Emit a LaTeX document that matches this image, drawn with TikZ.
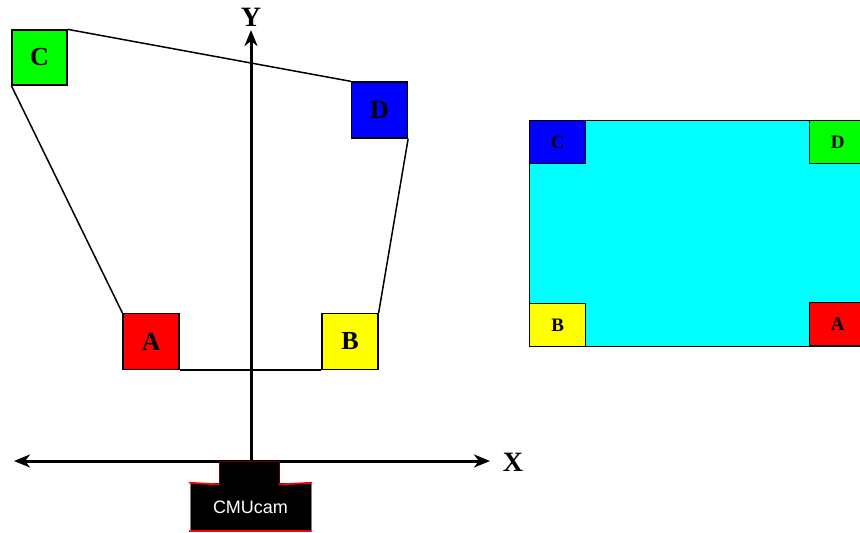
\documentclass[tikz,border=0pt]{standalone}
\usepackage{fontspec}
\setmainfont{Liberation Serif}
\newfontfamily\armfont{Liberation Sans}
\usetikzlibrary{arrows.meta}
\definecolor{gA}{RGB}{0,255,0}
\definecolor{bA}{RGB}{0,0,255}
\definecolor{rA}{RGB}{255,0,0}
\definecolor{yA}{RGB}{255,255,0}
\definecolor{cyA}{RGB}{0,255,255}
\tikzset{
  bigsq/.style={draw=black, line width=1.3pt, minimum width=56pt, minimum height=56pt, inner sep=0pt, font=\fontsize{26}{26}\selectfont\bfseries},
  smallsq/.style={draw=black, line width=1.3pt, minimum width=56pt, minimum height=43pt, inner sep=0pt, font=\fontsize{19}{19}\selectfont\bfseries},
  edge/.style={line width=1.5pt},
  tipA/.tip={Stealth[length=16pt,width=13pt,inset=5pt]},
  axlabel/.style={font=\fontsize{28}{28}\selectfont\bfseries, inner sep=0pt}
}
\begin{document}
\begin{tikzpicture}[x=1pt,y=-1pt]
\useasboundingbox (0,0) rectangle (860,533);
\clip (0,0) rectangle (860,533);
% left scene
\node[bigsq, fill=gA, minimum width=55pt, minimum height=55pt] (C) at (39.5,57.5) {C};
\node[bigsq, fill=bA] (D) at (379.5,110) {D};
\node[bigsq, fill=rA] (A) at (151,341.5) {A};
\node[bigsq, fill=yA] (B) at (350,341.5) {B};
\draw[edge] (C.north east) -- (D.north west);
\draw[edge] (C.south west) -- (A.north west);
\draw[edge] (D.south east) -- (B.north east);
\draw[edge] (A.south east) -- (B.south west);
% axes
\coordinate (xl) at (14,461);
\coordinate (xr) at (490,461);
\coordinate (yb) at (251,461);
\coordinate (yt) at (251,30);
\draw[line width=3pt, -tipA] (yb) -- (yt);
\draw[line width=3pt, tipA-tipA] (xl) -- (xr);
\node[axlabel] (Y) at (251,17) {Y};
\node[axlabel] (X) at (513,462) {X};
% camera
\node[fill=black, draw=black!60!red, line width=0.8pt, minimum width=60pt, minimum height=23pt, inner sep=0pt] (cam1) at (249,472.5) {};
\node[fill=black, minimum width=121pt, minimum height=48pt, inner sep=0pt, text=white, font=\armfont\fontsize{18}{18}\selectfont] (cam2) at (250.5,507) {CMUcam};
\draw[rA, line width=1.8pt, line cap=rect] (cam2.north west) -- (cam1.south west);
\draw[rA, line width=1.8pt, line cap=rect] (cam1.south east) -- (cam2.north east);
\draw[rA, line width=1.8pt, line cap=rect] (cam2.south west) -- (cam2.south east);
\draw[black!50, line width=0.6pt] (cam2.north west) -- (cam2.south west) (cam2.north east) -- (cam2.south east);
% right image
\node[draw=black, line width=1.3pt, fill=cyA, minimum width=340pt, minimum height=226pt, inner sep=0pt, anchor=north west] (img) at (529,120) {};
\node[smallsq, fill=bA, anchor=north west] (c2) at (img.north west) {C};
\node[smallsq, fill=gA, anchor=north west] (d2) at (809,120) {D};
\node[smallsq, fill=yA, anchor=south west] (b2) at (img.south west) {B};
\node[smallsq, fill=rA, anchor=south west] (a2) at (809,346) {A};
\end{tikzpicture}
\end{document}
